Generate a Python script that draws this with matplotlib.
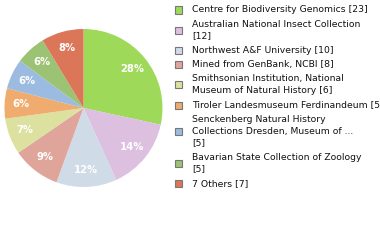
import matplotlib
matplotlib.use("Agg")
import matplotlib.pyplot as plt
from matplotlib.patches import Rectangle

# data
names = ["Centre for Biodiversity Genomics",
         "Australian National Insect Collection",
         "Northwest A&F University",
         "Mined from GenBank, NCBI",
         "Smithsonian Institution, National Museum of Natural History",
         "Tiroler Landesmuseum Ferdinandeum",
         "Senckenberg Natural History Collections Dresden, Museum of ...",
         "Bavarian State Collection of Zoology",
         "7 Others"]
counts = [23, 12, 10, 8, 6, 5, 5, 5, 7]
# legend lines as wrapped in the reference
legend_lines = [
    ["Centre for Biodiversity Genomics [23]"],
    ["Australian National Insect Collection", "[12]"],
    ["Northwest A&F University [10]"],
    ["Mined from GenBank, NCBI [8]"],
    ["Smithsonian Institution, National", "Museum of Natural History [6]"],
    ["Tiroler Landesmuseum Ferdinandeum [5]"],
    ["Senckenberg Natural History", "Collections Dresden, Museum of ...", "[5]"],
    ["Bavarian State Collection of Zoology", "[5]"],
    ["7 Others [7]"],
]
colors = ["#9ed95a", "#ddbfe0", "#cfdbe6", "#e0a59a", "#dde19f",
          "#efac6e", "#9bbbe0", "#9cc274", "#db7658"]

W, H = 380, 240
fig = plt.figure(figsize=(W / 100, H / 100), dpi=100)

# pie: center (83.5, 108) px, radius 79 px
cx, cy, r = 83.5, 108, 79
ax = fig.add_axes([(cx - r) / W, (H - cy - r) / H, 2 * r / W, 2 * r / H])
wedges, texts, autotexts = ax.pie(
    counts, colors=colors, startangle=90, counterclock=False,
    autopct=lambda p: "%d%%" % int(p), pctdistance=0.79,
    wedgeprops=dict(linewidth=0),
    textprops=dict(color="white", fontsize=7.2, fontweight="bold"))
ax.set_xlim(-1, 1)
ax.set_ylim(-1, 1)
ax.set_aspect("equal")
ax.axis("off")

# legend drawn by hand to keep the reference wrapping
line_h = 11.8
gap = 14.3
y = 10.0
for lines, c in zip(legend_lines, colors):
    mid = y + (len(lines) - 1) * line_h / 2
    fig.patches.append(Rectangle((175 / W, 1 - (mid + 3.5) / H), 7 / W, 7 / H,
                                 transform=fig.transFigure, facecolor=c,
                                 edgecolor="#777777", linewidth=0.8))
    for i, t in enumerate(lines):
        fig.text(192 / W, 1 - (y + i * line_h) / H, t, fontsize=6.7,
                 va="center", ha="left", color="#111111",
                 family="DejaVu Sans")
    y += (len(lines) - 1) * line_h + gap

fig.savefig("out.png", dpi=100)
